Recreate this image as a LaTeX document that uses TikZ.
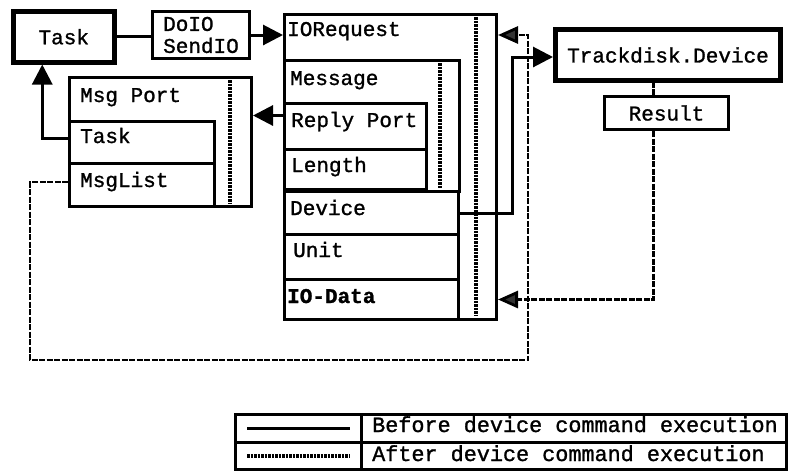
\documentclass[tikz,border=0pt]{standalone}
\usepackage{fontspec}
\setmainfont{Liberation Mono}[FakeBold=1.2]
\usetikzlibrary{arrows.meta}
\begin{document}
\begin{tikzpicture}[x=1pt,y=-1pt,
  box/.style={draw, line width=3pt, anchor=north west, inner sep=0pt},
  thickbox/.style={box, line width=4.5pt},
  lbl/.style={font=\fontsize{21}{21}\selectfont, inner sep=0pt, anchor=base west},
  legtext/.style={font=\fontsize{21.8}{22}\selectfont, inner sep=0pt, anchor=base west},
  ctext/.style={font=\fontsize{21}{22}\selectfont},
  before/.style={line width=3pt},
  after/.style={line width=2.8pt, dash pattern=on 6pt off 1.5pt},
  dots/.style={line width=3.5pt, dash pattern=on 2.5pt off 1pt},
  solidhead/.style={-{Triangle[length=20pt,width=20pt]}},
  hatchhead/.style={-{Triangle[length=20pt,width=17pt,fill=black!80]}},
]
\useasboundingbox (0,0) rectangle (788,475);

% Task and DoIO
\node[thickbox, ctext, minimum width=101pt, minimum height=51pt] (task) at (11,9) {Task};
\node[box, ctext, align=left, minimum width=97pt, minimum height=47pt] (doio) at (151,10) {DoIO\\SendIO};

% IORequest structure
\node[box, minimum width=212pt, minimum height=305pt] (ioreq) at (283,13) {};
\node[box, minimum width=175pt, minimum height=131pt] (message) at (283,59) {};
\node[box, minimum width=142pt, minimum height=46pt] (reply) at (283,102) {};
\node[box, minimum width=142pt, minimum height=40pt] (length) at (283,148) {};
\node[box, minimum width=174pt, minimum height=43pt] (device) at (283,190) {};
\node[box, minimum width=174pt, minimum height=45pt] (unit) at (283,233) {};
\node[box, minimum width=174pt, minimum height=40pt] (iodata) at (283,278) {};
\draw[dots] (476,17) -- (476,316);
\draw[dots] (440,63) -- (440,188);

\node[lbl] (ioreqT) at (287,36) {IORequest};
\node[lbl] (messageT) at (290,85) {Message};
\node[lbl] (replyT) at (291,127) {Reply Port};
\node[lbl] (lengthT) at (291,172) {Length};
\node[lbl] (deviceT) at (290,215) {Device};
\node[lbl] (unitT) at (293,257) {Unit};
\node[lbl, font=\fontsize{21}{21}\selectfont\bfseries] (iodataT) at (287,303) {IO-Data};

% Msg Port structure
\node[box, minimum width=182pt, minimum height=129pt] (msgport) at (68,76) {};
\node[box, minimum width=145pt, minimum height=42pt] (taskrow) at (68,120) {};
\node[box, minimum width=145pt, minimum height=43pt] (msglist) at (68,162) {};
\draw[dots] (230,80) -- (230,203);
\node[lbl] (msgportT) at (80,102) {Msg Port};
\node[lbl] (taskrowT) at (80,143) {Task};
\node[lbl] (msglistT) at (80,187) {MsgList};

% Device side
\node[box, ctext, line width=5pt, minimum width=225pt, minimum height=51pt] (trackdisk) at (553,27) {Trackdisk.Device};
\node[box, ctext, minimum width=124pt, minimum height=33pt] (result) at (603,95) {Result};

% Solid connectors
\draw[before] (task.east) -- (task.east -| doio.west);
\draw[before, solidhead] (doio.east) -- (doio.east -| ioreq.west);
\draw[before, solidhead] ([yshift=11pt]reply.west) -- ([yshift=11pt]reply.west -| msgport.east);
\draw[before, solidhead] ([yshift=4pt]taskrow.west) -| ([xshift=-21.5pt]task.south);
\coordinate (devbend) at (512,0);
\draw[before, solidhead] (device.east) -- (device.east -| devbend) |- ([yshift=-2pt]trackdisk.west);

% Dashed connectors
\draw[after] ([xshift=-13pt]result.north) -- ([xshift=-13pt]result.north |- trackdisk.south);
\draw[after, hatchhead] ([xshift=-13pt]result.south) |- (iodata.east -| ioreq.east);
\coordinate (lpA) at (30,360);
\coordinate (lpB) at (528,360);
\draw[after, hatchhead] ([yshift=3pt]msglist.west) -| (lpA) -- (lpB) |- (doio.east -| ioreq.east);

% Legend
\node[box, minimum width=126pt, minimum height=28pt] (lg1) at (234,413) {};
\node[box, minimum width=425pt, minimum height=28pt] (lg2) at (360,413) {};
\node[box, minimum width=126pt, minimum height=27pt] (lg3) at (234,441) {};
\node[box, minimum width=425pt, minimum height=27pt] (lg4) at (360,441) {};
\draw[before] ([xshift=13pt]lg1.west) -- ([xshift=-13pt]lg1.east);
\draw[dots] ([xshift=13pt]lg3.west) -- ([xshift=-13pt]lg3.east);
\node[legtext] (lgT1) at (372,432) {Before device command execution};
\node[legtext] (lgT2) at (372,461) {After device command execution};
\end{tikzpicture}
\end{document}
